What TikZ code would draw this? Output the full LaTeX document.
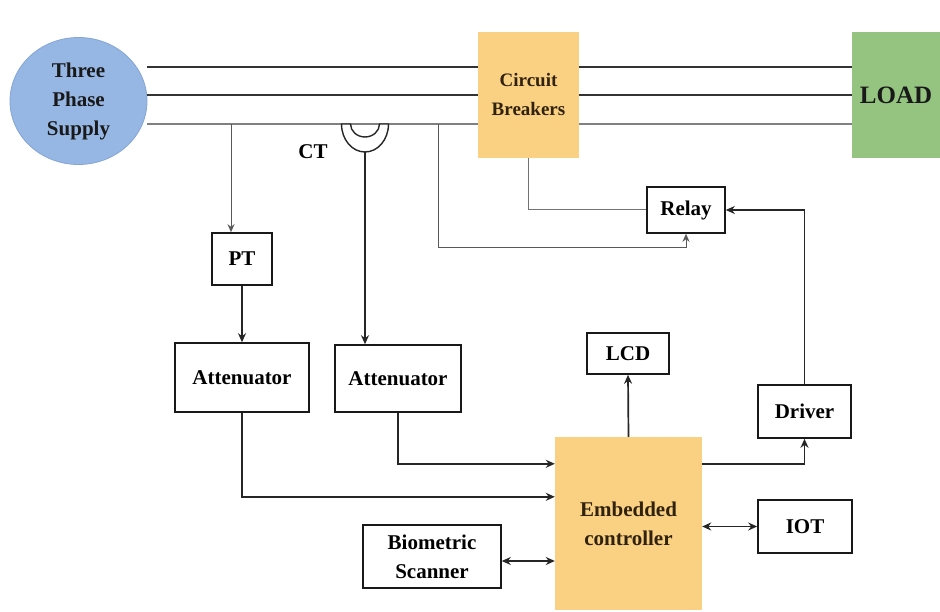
\documentclass[tikz,border=0pt]{standalone}
\usepackage{fontspec}
\setmainfont{Liberation Serif}
\usetikzlibrary{arrows.meta,shapes.geometric,calc}
\definecolor{supblue}{RGB}{150,183,228}
\definecolor{supedge}{RGB}{132,165,212}
\definecolor{cborange}{RGB}{250,209,130}
\definecolor{loadgreen}{RGB}{148,196,128}
\definecolor{ectext}{RGB}{48,34,14}
\begin{document}
\begin{tikzpicture}[x=1pt,y=-1pt,
  txt/.style={font=\bfseries\fontsize{21}{29}\selectfont, align=center, inner sep=0pt},
  box/.style={txt, draw=black!90, line width=1.6pt, fill=white},
  orng/.style={txt, fill=cborange, text=ectext},
  bus/.style={line width=2.6pt, draw=black!80},
  thinbus/.style={line width=1.1pt, draw=black!50},
  tap/.style={line width=1pt, draw=black!55},
  arr/.style={line width=1.7pt, draw=black!85, -{Stealth[length=9pt,width=8pt]}},
  darr/.style={line width=1.7pt, draw=black!85, {Stealth[length=9pt,width=8pt]}-{Stealth[length=9pt,width=8pt]}},
  tarr/.style={tap, draw=black!65, -{Stealth[length=8pt,width=7pt]}}]
\useasboundingbox (0,0) rectangle (940,612);
\fill[white] (0,0) rectangle (940,612);

% main nodes
\node[txt, ellipse, fill=supblue, draw=supedge, line width=0.8pt,
      minimum width=137pt, minimum height=127pt, text=black!90] (sup) at (78.5,101) {Three\\Phase\\Supply};
\node[orng, minimum width=101pt, minimum height=126pt,
      font=\bfseries\fontsize{19}{29}\selectfont] (cb) at (528.5,95) {Circuit\\Breakers};
\node[txt, fill=loadgreen, minimum width=88pt, minimum height=126pt,
      font=\bfseries\fontsize{25}{29}\selectfont, text=black!90] (load) at (896,95) {LOAD};

\node[box, minimum width=78pt, minimum height=46pt] (relay) at (686,210) {Relay};
\node[box, minimum width=60pt, minimum height=52pt] (pt) at (242,259) {PT};
\node[box, minimum width=134pt, minimum height=69pt] (att1) at (242,377.5) {Attenuator};
\node[box, minimum width=126pt, minimum height=67pt] (att2) at (398,378.5) {Attenuator};
\node[box, minimum width=82pt, minimum height=41pt] (lcd) at (628,353.5) {LCD};
\node[box, minimum width=93pt, minimum height=53pt] (drv) at (804.5,411.5) {Driver};
\node[orng, minimum width=147pt, minimum height=173pt] (ec) at (628.5,523.5) {Embedded\\controller};
\node[box, minimum width=94pt, minimum height=53pt] (iot) at (805,526.5) {IOT};
\node[box, minimum width=138pt, minimum height=63pt] (bio) at (432,556.5) {Biometric\\Scanner};
\node[txt] (ctl) at (313,152) {CT};

% three-phase bus
\foreach \yy in {67,95} {
  \draw[bus] (sup.east |- 0,\yy) -- (cb.west |- 0,\yy);
  \draw[bus] (cb.east |- 0,\yy) -- (load.west |- 0,\yy);
}
\draw[thinbus] (sup.east |- 0,124) -- (cb.west |- 0,124);
\draw[thinbus] (cb.east |- 0,124) -- (load.west |- 0,124);

% current transformer
\coordinate (ctc) at (365,124);
\coordinate (ctb) at (365,152);
\draw[line width=1.4pt, draw=black!85, fill=white]
  ($(ctc)+(-23.5,0)$) arc[start angle=180, end angle=0, x radius=23.5, y radius=28]
  -- ++(-9,0) arc[start angle=0, end angle=180, x radius=14.5, y radius=13] -- cycle;
\draw[arr] (ctb) -- (ctb |- att2.north);

% taps
\coordinate (tp1) at (231,124);
\draw[tarr] (tp1) -- (tp1 |- pt.north);
\coordinate (tp2) at (438,124);
\coordinate (tp2b) at (438,248);
\draw[tarr] (tp2) -- (tp2b) -| (relay.south);
\draw[tap] (cb.south) |- (relay.west);
\draw[arr] (drv.north) |- (relay.east);

% signal chain
\coordinate (ec1) at ($(ec.north west)+(0,27)$);
\coordinate (ec2) at ($(ec.north west)+(0,60)$);
\coordinate (ec3) at ($(ec.north east)+(0,27)$);
\coordinate (bioe) at ($(bio.east)+(0,4.5)$);
\draw[arr] (pt.south) -- (att1.north);
\draw[arr] (att2.south) |- (ec1);
\draw[arr] (att1.south) |- (ec2);
\draw[darr] (bioe) -- (bioe -| ec.west);
\draw[arr] (ec.north) -- (lcd.south);
\draw[arr] (ec3) -| (drv.south);
\draw[darr] (ec.east |- iot.west) -- (iot.west);
\end{tikzpicture}
\end{document}
